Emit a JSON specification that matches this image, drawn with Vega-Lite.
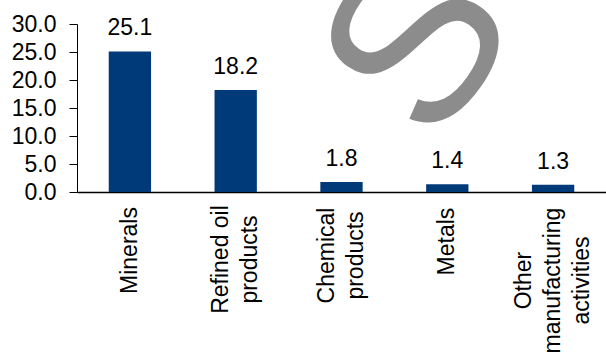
{
  "$schema": "https://vega.github.io/schema/vega-lite/v6.json",
  "width": 529,
  "height": 168,
  "autosize": "none",
  "padding": {"left": 77, "top": 24, "right": 0, "bottom": 166},
  "background": "white",
  "config": {"view": {"stroke": null}, "font": "Liberation Sans"},
  "data": {
    "values": [
      {"category": "Minerals", "value": 25.1},
      {"category": "Refined oil\nproducts", "value": 18.2},
      {"category": "Chemical\nproducts", "value": 1.8},
      {"category": "Metals", "value": 1.4},
      {"category": "Other\nmanufacturing\nactivities", "value": 1.3}
    ]
  },
  "encoding": {
    "x": {
      "field": "category",
      "type": "nominal",
      "sort": null,
      "scale": {"paddingInner": 0.6, "paddingOuter": 0.3},
      "axis": {
        "title": null,
        "ticks": false,
        "domainColor": "#000000",
        "domainWidth": 1.5,
        "labelAngle": 270,
        "labelAlign": "center",
        "labelBaseline": "middle",
        "labelPadding": {
          "condition": [
            {"test": "datum.value == 'Minerals'", "value": 58},
            {"test": "datum.value == 'Refined oil\\nproducts'", "value": 67},
            {"test": "datum.value == 'Chemical\\nproducts'", "value": 63},
            {"test": "datum.value == 'Metals'", "value": 49},
            {"test": "datum.value == 'Other\\nmanufacturing\\nactivities'", "value": 88}
          ],
          "value": 14
        },
        "labelFontSize": 23,
        "labelColor": "#000000",
        "labelLineHeight": 29,
        "labelLimit": 0,
        "labelOffset": {
          "condition": [
            {"test": "length(split(datum.value, '\\n')) == 3", "value": -29},
            {"test": "length(split(datum.value, '\\n')) == 2", "value": -14.5}
          ],
          "value": 0
        },
        "labelExpr": "split(datum.label, '\\n')"
      }
    },
    "y": {
      "field": "value",
      "type": "quantitative",
      "scale": {"domain": [0, 30], "nice": false},
      "axis": {
        "title": null,
        "values": [0, 5, 10, 15, 20, 25, 30],
        "format": ".1f",
        "grid": false,
        "tickSize": 8,
        "tickColor": "#000000",
        "domainColor": "#000000",
        "labelPadding": 13,
        "labelFontSize": 23,
        "labelColor": "#000000"
      }
    }
  },
  "layer": [
    {"mark": {"type": "bar", "color": "#003a78"}},
    {
      "mark": {"type": "text", "fontSize": 23, "color": "#000000", "baseline": "alphabetic", "dy": -16},
      "encoding": {"text": {"field": "value", "type": "quantitative", "format": ".1f"}}
    },
    {
      "data": {"values": [{"letter": "S", "category": "Metals", "value": 32.4}]},
      "mark": {"type": "text", "fontSize": 230, "color": "#8c8c8c", "angle": -55, "align": "center", "baseline": "middle", "dx": -44},
      "encoding": {
        "text": {"field": "letter", "type": "nominal"}
      }
    }
  ]
}
